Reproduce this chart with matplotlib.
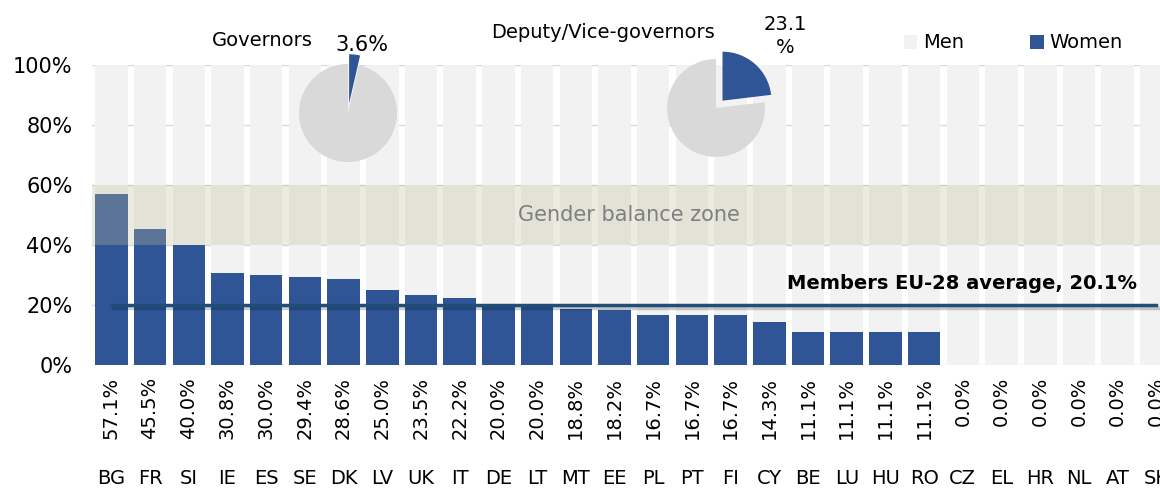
import matplotlib.pyplot as plt
import matplotlib.patheffects as pe
import numpy as np

plt.rcParams.update({
    'font.family': 'DejaVu Sans',
    'font.size': 14,
})

countries = ['BG', 'FR', 'SI', 'IE', 'ES', 'SE', 'DK', 'LV', 'UK', 'IT', 'DE', 'LT', 'MT', 'EE',
             'PL', 'PT', 'FI', 'CY', 'BE', 'LU', 'HU', 'RO', 'CZ', 'EL', 'HR', 'NL', 'AT', 'SK']
women = [57.1, 45.5, 40.0, 30.8, 30.0, 29.4, 28.6, 25.0, 23.5, 22.2, 20.0, 20.0, 18.8, 18.2,
         16.7, 16.7, 16.7, 14.3, 11.1, 11.1, 11.1, 11.1, 0.0, 0.0, 0.0, 0.0, 0.0, 0.0]
men_total = [100.0] * len(countries)
eu_average = 20.1
balance_zone = (40, 60)
governors_women = 3.6
deputies_women = 23.1

W, H = 1160, 488
c_women = '#2f5597'
c_men = '#f2f2f2'
c_pie = '#d9d9d9'
c_line = '#1f4e79'

fig = plt.figure(figsize=(W / 100, H / 100), dpi=100)
ax = fig.add_axes([92 / W, (H - 365) / H, 1 - 92 / W, 300 / H])

x = np.arange(len(countries))
ax.bar(x, men_total, 0.84, color=c_men, zorder=1, label='Men')
ax.bar(x, women, 0.84, color=c_women, zorder=2, label='Women')
ax.axhspan(*balance_zone, color='#c3be9b', alpha=0.3, lw=0, zorder=3)
ax.text(13.37, 50, 'Gender balance zone', color='#7f7f7f', fontsize=15,
        ha='center', va='center', zorder=4)

ax.plot(x, [eu_average] * len(x), color=c_line, lw=2.5, zorder=5,
        path_effects=[pe.SimpleLineShadow(offset=(1.5, -2.5), alpha=0.2, shadow_color='k'), pe.Normal()])
ax.text(26.5, 24, 'Members EU-28 average, 20.1%', fontweight='bold', fontsize=14,
        ha='right', va='bottom', zorder=6)

ax.set_xlim(-0.5, (W - 111.5) / 38.7)
ax.set_ylim(0, 100)
ax.set_yticks([0, 20, 40, 60, 80, 100])
ax.set_yticklabels([f'{v}%' for v in [0, 20, 40, 60, 80, 100]], fontsize=15)
ax.yaxis.grid(True, color='#d9d9d9', lw=1)
ax.set_axisbelow(True)
ax.tick_params(axis='both', length=0, pad=14)
ax.set_xticks([])
for s in ax.spines.values():
    s.set_visible(False)

for i, (c, v) in enumerate(zip(countries, women)):
    ax.text(i, -4, f'{v:.1f}%', rotation=90, ha='center', va='top', fontsize=14, clip_on=False)
    ax.text(i, -37.7, c, ha='center', va='center', fontsize=14, clip_on=False)

ax.legend(loc='center left', bbox_to_anchor=(886 / W, 1 - 43 / H), bbox_transform=fig.transFigure,
          ncol=2, frameon=False, fontsize=14, handlelength=0.7, handleheight=0.7,
          handletextpad=0.3, columnspacing=3.4)


def add_pie(cx, cy, share):
    box = 140
    pax = fig.add_axes([(cx - box / 2) / W, (H - cy - box / 2) / H, box / W, box / H])
    pax.pie([share, 100 - share], colors=[c_women, c_pie], startangle=90, counterclock=False,
            explode=[0.2, 0], radius=1)
    lim = box / 2 / 49
    pax.set_xlim(-lim, lim)
    pax.set_ylim(-lim, lim)
    pax.set_aspect('equal')
    pax.axis('off')


add_pie(348, 113, governors_women)
add_pie(716, 108, deputies_women)

fig.text(262 / W, 1 - 40 / H, 'Governors', ha='center', va='center', fontsize=14)
fig.text(362 / W, 1 - 45 / H, f'{governors_women}%', ha='center', va='center', fontsize=15)
fig.text(603 / W, 1 - 33 / H, 'Deputy/Vice-governors', ha='center', va='center', fontsize=14)
fig.text(785 / W, 1 - 36 / H, f'{deputies_women}\n%', ha='center', va='center', fontsize=14,
         linespacing=1.3)

fig.savefig('out.png', dpi=100, facecolor='white')
